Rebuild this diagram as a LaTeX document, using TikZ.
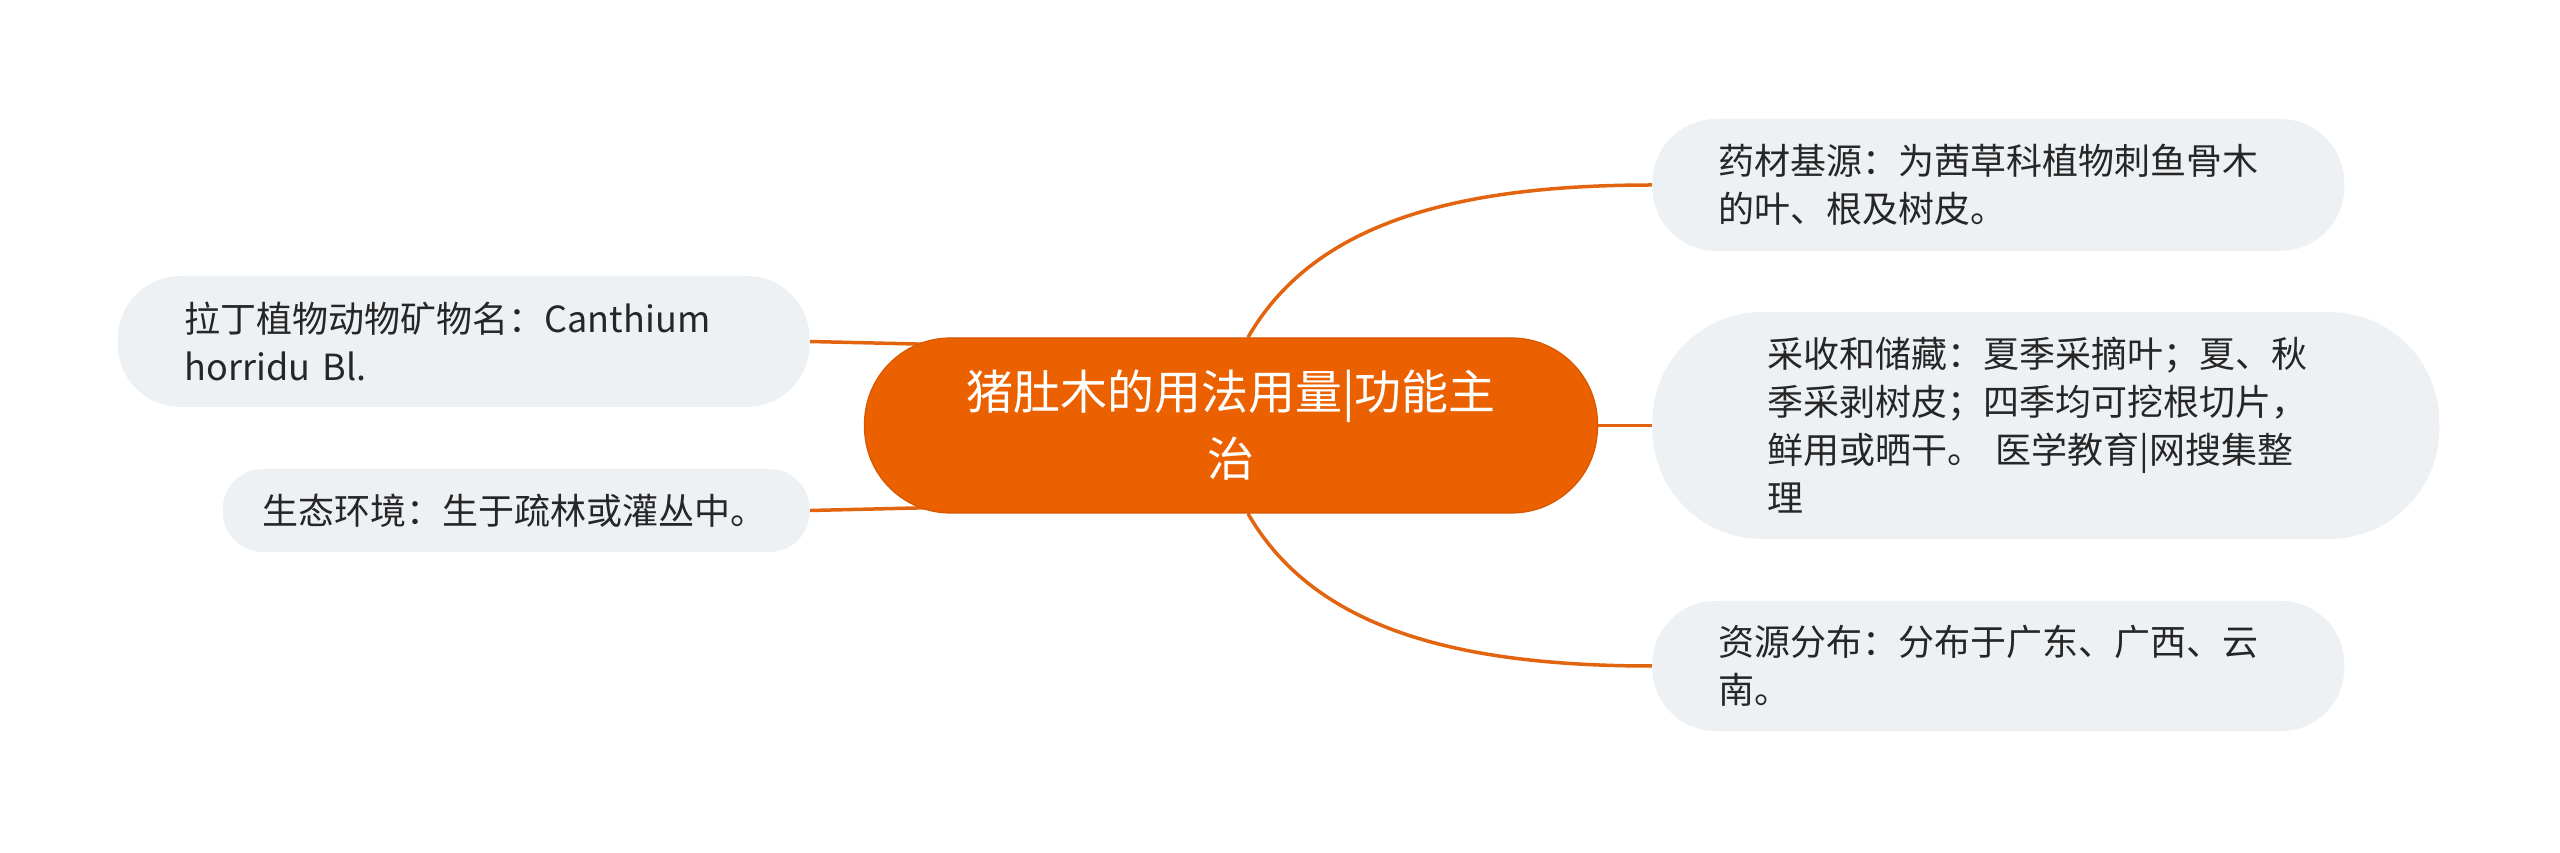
\documentclass[tikz,border=0pt]{standalone}
\usepackage{fontspec}
\newfontfamily\cjk{Noto Sans CJK SC}
\usetikzlibrary{positioning, backgrounds}

\definecolor{topicorange}{HTML}{EB6100}
\definecolor{topicedge}{HTML}{D65800}
\definecolor{branchorange}{HTML}{E2640E}
\definecolor{leafgray}{HTML}{EEF1F4}
\definecolor{leaftext}{HTML}{262626}

\begin{document}
\begin{tikzpicture}[x=1pt, y=1pt, node distance=54pt,
    topic/.style={draw=topicedge, line width=1.2pt, fill=topicorange, text=white,
      rounded corners=86pt, minimum height=175pt, text width=561pt, inner xsep=86pt,
      align=center, font=\cjk\fontsize{47}{67}\selectfont},
    leaf/.style={fill=leafgray, text=leaftext, align=left, inner ysep=0pt,
      font=\cjk\fontsize{36}{48}\selectfont},
    branch/.style={draw=branchorange, line width=3.5pt}]
    \useasboundingbox (0,0) rectangle (2560,852);

    \node[topic] (main) at (1231,426.5) {猪肚木的用法用量|功能主\\治};

    % right side
    \node[leaf, right=of main, yshift=240.5pt, minimum height=132pt,
      text width=560pt, inner xsep=66pt, rounded corners=64pt] (source)
      {药材基源：为茜草科植物刺鱼骨木\\的叶、根及树皮。};
    \node[leaf, right=of main, minimum height=227pt,
      text width=557pt, inner xsep=115pt, rounded corners=110pt] (harvest)
      {采收和储藏：夏季采摘叶；夏、秋\\季采剥树皮；四季均可挖根切片，\\鲜用或晒干。 医学教育|网搜集整\\理};
    \node[leaf, right=of main, yshift=-240.5pt, minimum height=130pt,
      text width=560pt, inner xsep=66pt, rounded corners=63pt] (distrib)
      {资源分布：分布于广东、广西、云\\南。};

    % left side
    \node[leaf, left=of main, yshift=84pt, minimum height=131pt,
      text width=558pt, inner xsep=67pt, rounded corners=63pt] (latin)
      {拉丁植物动物矿物名：Canthium\\horridu Bl.};
    \node[leaf, left=of main, yshift=-85pt, minimum height=83pt,
      text width=507pt, inner xsep=40pt, rounded corners=40pt] (habitat)
      {生态环境：生于疏林或灌丛中。};

    \begin{scope}[on background layer]
      \draw[branch] ([xshift=17pt]main.north) .. controls +(65,113) and +(-200,0) .. (source.west);
      \draw[branch] (main.east) -- (harvest.west);
      \draw[branch] ([xshift=17pt]main.south) .. controls +(65,-113) and +(-200,0) .. (distrib.west);
      \draw[branch] (latin.east) -- ([xshift=95pt, yshift=80.5pt]main.west);
      \draw[branch] (habitat.east) -- ([xshift=95pt, yshift=-81.5pt]main.west);
    \end{scope}
  \end{tikzpicture}
\end{document}
